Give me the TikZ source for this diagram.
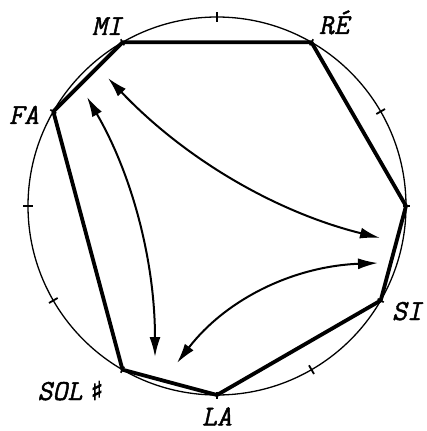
\documentclass[tikz,border=0pt]{standalone}
\usepackage{fontspec}
\newfontfamily\symfont{DejaVu Sans}[FakeBold=2.5]
\newfontfamily\notefont{Latin Modern Mono}[FakeSlant=0.22,FakeBold=1.6]
\usetikzlibrary{arrows.meta,calc}
\begin{document}
\begin{tikzpicture}[x=1pt,y=1pt,
  rim/.style={line width=1.3pt},
  edge/.style={line width=3.8pt, line cap=round, line join=round},
  tickmark/.style={line width=1.8pt},
  vmark/.style={line width=1.6pt},
  dblarrow/.style={line width=2pt, {Latex[length=20pt,width=11pt]}-{Latex[length=20pt,width=11pt]}},
  note/.style={font=\fontsize{29}{29}\selectfont\notefont, inner sep=0pt, anchor=base}]
\useasboundingbox (-217,-225) rectangle (210,206);
\draw[rim] (0,0) circle[radius=189];
% scale degrees
\coordinate (DO)  at (0:189);
\coordinate (RE)  at (60:189);
\coordinate (MI)  at (120:189);
\coordinate (FA)  at (150:189);
\coordinate (SOL) at (-120:189);
\coordinate (LA)  at (-90:189);
\coordinate (SI)  at (-30:189);
% ticks at the other chromatic steps
\foreach \a in {90,30,180,-150,-60}
  \draw[tickmark] (\a:184) -- (\a:194);
\foreach \a in {0,60,120,150,-120,-90,-30}
  \draw[vmark] (\a:185.5) -- (\a:192.5);
% heptagon
\draw[edge] (MI) -- (RE) -- (DO) -- (SI) -- (LA) -- (SOL) -- (FA) -- cycle;
% labels
\node[note] (lMI)  at (-110,171) {MI};
\node[note] (lRE)  at (117,172) {RÉ};
\node[note] (lFA)  at (-193,82) {FA};
\node[note] (lSI)  at (190,-114) {SI};
\node[note] (lLA)  at (0,-219.5) {LA};
\node[note] (lSOL) at (-157,-194) {SOL};
\node[font=\fontsize{26}{26}\selectfont\symfont, inner sep=0pt, anchor=base] (sharp) at (-120,-194) {♯};
% arrows
\coordinate (a1s) at (-109,128); \coordinate (a1c) at (6,7);   \coordinate (a1e) at (163,-32);
\coordinate (a2s) at (-130,109); \coordinate (a2c) at (-62,-8); \coordinate (a2e) at (-62,-151);
\coordinate (a3s) at (-40,-157); \coordinate (a3c) at (33,-62); \coordinate (a3e) at (161,-57);
\draw[dblarrow] (a1s) .. controls ($(a1s)!2/3!(a1c)$) and ($(a1e)!2/3!(a1c)$) .. (a1e);
\draw[dblarrow] (a2s) .. controls ($(a2s)!2/3!(a2c)$) and ($(a2e)!2/3!(a2c)$) .. (a2e);
\draw[dblarrow] (a3s) .. controls ($(a3s)!2/3!(a3c)$) and ($(a3e)!2/3!(a3c)$) .. (a3e);
\end{tikzpicture}
\end{document}
